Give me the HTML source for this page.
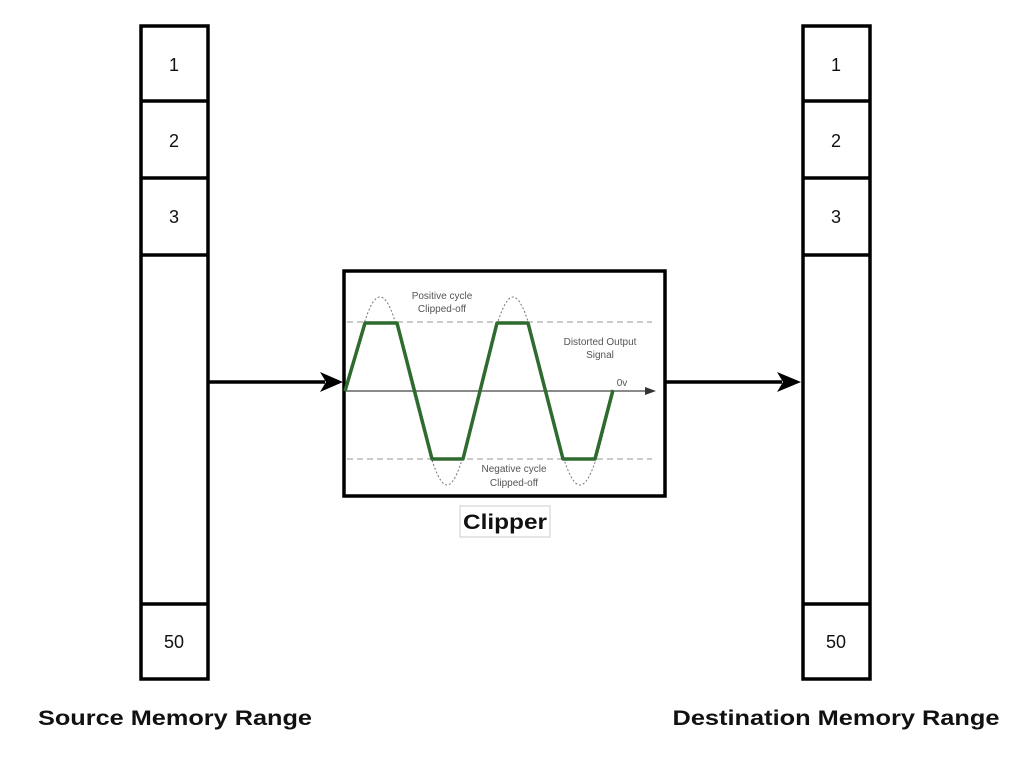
<!DOCTYPE html>
<html><head><style>
body{margin:0;background:#fff;width:1024px;height:752px;overflow:hidden;font-family:"Liberation Sans",sans-serif}
</style></head><body>
<svg width="1024" height="752" xmlns="http://www.w3.org/2000/svg" font-family="Liberation Sans, sans-serif">
<g fill="none" stroke="#000" stroke-width="3.5">
<rect x="141" y="26" width="67" height="653"/>
<line x1="141" y1="101" x2="208" y2="101"/><line x1="141" y1="178" x2="208" y2="178"/>
<line x1="141" y1="255" x2="208" y2="255"/><line x1="141" y1="604" x2="208" y2="604"/>
<rect x="803" y="26" width="67" height="653"/>
<line x1="803" y1="101" x2="870" y2="101"/><line x1="803" y1="178" x2="870" y2="178"/>
<line x1="803" y1="255" x2="870" y2="255"/><line x1="803" y1="604" x2="870" y2="604"/>
<rect x="344" y="271" width="321" height="225"/>
</g>
<g font-size="18" text-anchor="middle" fill="#111">
<text x="174" y="71">1</text><text x="174" y="147">2</text><text x="174" y="223">3</text><text x="174" y="648">50</text>
<text x="836" y="71">1</text><text x="836" y="147">2</text><text x="836" y="223">3</text><text x="836" y="648">50</text>
</g>
<line x1="209" y1="382" x2="325" y2="382" stroke="#000" stroke-width="3.5"/>
<path d="M320,372 L343,382 L320,392 L326,382 Z" fill="#000"/>
<line x1="666" y1="382" x2="782" y2="382" stroke="#000" stroke-width="3.5"/>
<path d="M777,372 L801,382 L777,392 L783,382 Z" fill="#000"/>
<g stroke="#aaa" stroke-width="1.2" stroke-dasharray="6,4">
<line x1="347" y1="322" x2="652" y2="322"/><line x1="347" y1="459" x2="652" y2="459"/>
</g>
<path d="M345,391 C360,340 368,297 380,297 C392,297 400,340 413,391 C426,440 436,485 447,485 C458,485 468,440 480,391 C492,340 502,297 513,297 C524,297 534,340 546,391 C558,440 568,485 580,485 C592,485 602,440 613,391" fill="none" stroke="#777" stroke-width="1" stroke-dasharray="2,2"/>
<line x1="345" y1="391" x2="648" y2="391" stroke="#444" stroke-width="1.3"/>
<path d="M645,387 L656,391 L645,395 Z" fill="#333"/>
<polyline points="345,391 365,323 397,323 432,459 463,459 497,323 528,323 563,459 595,459 613,390" fill="none" stroke="#2e6b2e" stroke-width="3.5" stroke-linejoin="round"/>
<g font-size="10" fill="#555" text-anchor="middle">
<text x="442" y="299">Positive cycle</text><text x="442" y="312">Clipped-off</text>
<text x="600" y="345">Distorted Output</text><text x="600" y="358">Signal</text>
<text x="622" y="386">0v</text>
<text x="514" y="472">Negative cycle</text><text x="514" y="486">Clipped-off</text>
</g>
<rect x="460" y="506" width="90" height="31" fill="#fff" stroke="#ccc" stroke-width="1"/>
<text x="505" y="529" font-size="21" font-weight="bold" text-anchor="middle" fill="#111" textLength="84" lengthAdjust="spacingAndGlyphs">Clipper</text>
<text x="175" y="725" font-size="21" font-weight="bold" text-anchor="middle" fill="#111" textLength="274" lengthAdjust="spacingAndGlyphs">Source Memory Range</text>
<text x="836" y="725" font-size="21" font-weight="bold" text-anchor="middle" fill="#111" textLength="327" lengthAdjust="spacingAndGlyphs">Destination Memory Range</text>
</svg>
</body></html>
